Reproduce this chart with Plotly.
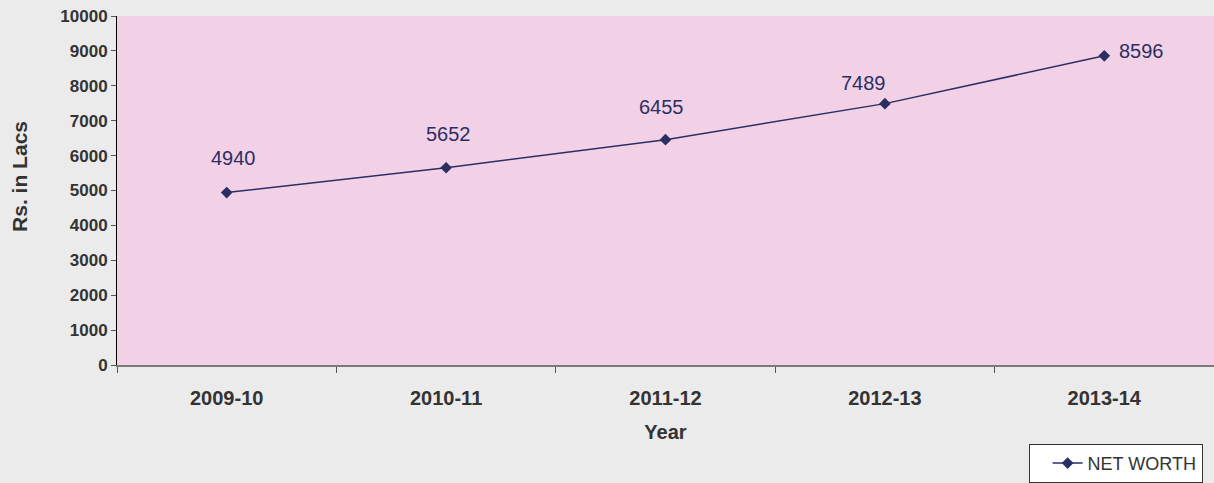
import plotly.graph_objects as go

years = ["2009-10", "2010-11", "2011-12", "2012-13", "2013-14"]
net_worth = [4940, 5652, 6455, 7489, 8860]
point_labels = ["4940", "5652", "6455", "7489", "8596"]
y_ticks = [0, 1000, 2000, 3000, 4000, 5000, 6000, 7000, 8000, 9000, 10000]
y_tick_text = [str(v) for v in y_ticks]
y_title = "Rs. in Lacs"

NAVY = "#2b2e63"
label_offsets = [(7, 35), (2, 34), (-4, 33), (-21, 21), (37, 5)]

fig = go.Figure()
fig.add_trace(go.Scatter(
    x=years, y=net_worth, mode="lines+markers", name="NET WORTH",
    line=dict(color=NAVY, width=1.5),
    marker=dict(symbol="diamond", size=9, color=NAVY),
))

for i, (yr, v, lab) in enumerate(zip(years, net_worth, point_labels)):
    dx, dy = label_offsets[i]
    fig.add_annotation(x=yr, y=v, text=lab, showarrow=False,
                       xshift=dx, yshift=dy,
                       font=dict(family="Liberation Sans, Arial", size=20, color=NAVY))

# y-axis title (placed slightly above the plot centre, as in the reference)
fig.add_annotation(xref="paper", yref="paper", x=0, y=0.539, xshift=-97,
                   xanchor="center", yanchor="middle", textangle=-90,
                   text="<b>" + y_title + "</b>", showarrow=False,
                   font=dict(family="Liberation Sans, Arial", size=21, color="#333333"))

fig.update_layout(
    width=1214, height=483,
    margin=dict(l=117, r=0, t=16, b=118),
    paper_bgcolor="#ebebeb",
    plot_bgcolor="#f2d1e6",
    font=dict(family="Liberation Sans, Arial", color="#333333"),
    showlegend=True,
    legend=dict(
        x=0.831, y=-0.226, xanchor="left", yanchor="top",
        bgcolor="#ffffff", bordercolor="#333333", borderwidth=1,
        font=dict(size=18, color="#333333"),
        itemwidth=30, indentation=18,
    ),
)

fig.update_xaxes(
    type="category", range=[-0.5, 4.5],
    showgrid=False, zeroline=False,
    showline=True, linecolor="#7a7a7a", linewidth=2,
    ticks="outside", tickson="boundaries", ticklen=6, tickcolor="#555555",
    tickfont=dict(size=20, color="#333333", weight="bold"),
    ticklabelstandoff=14,
    title=dict(text="<b>Year</b>", font=dict(size=20, color="#333333"), standoff=17),
)
fig.update_yaxes(
    range=[0, 10000], tickvals=y_ticks, ticktext=y_tick_text,
    showgrid=False, zeroline=False,
    showline=True, linecolor="#000000", linewidth=1,
    ticks="outside", ticklen=5, tickcolor="#555555",
    tickfont=dict(size=17, color="#333333", weight="bold"),
)

fig.write_html("out.html", config={"displayModeBar": False},
               post_script="document.body.style.margin='0';document.body.style.overflow='hidden';")
